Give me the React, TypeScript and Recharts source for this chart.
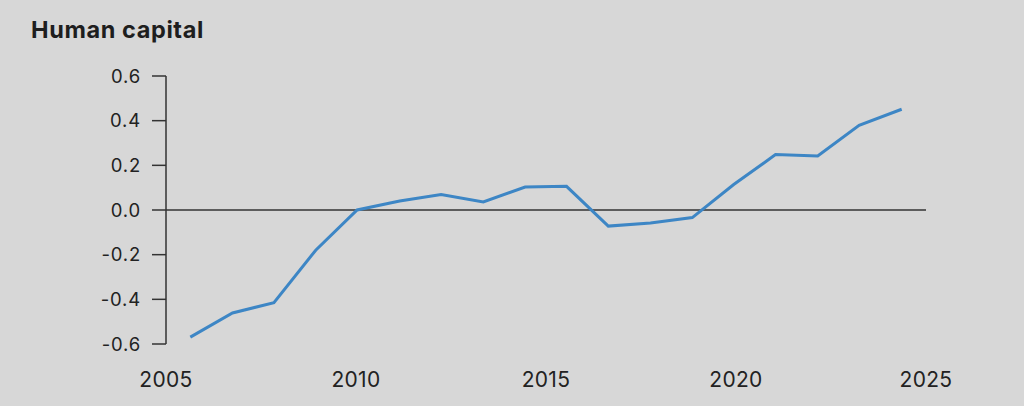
import React from 'react';
import { LineChart, Line, XAxis, YAxis, ReferenceLine } from 'recharts';

// years (points are not on whole years)
const years = [
  2005.64, 2006.75, 2007.84, 2008.94, 2010.03, 2011.15, 2012.24, 2013.35, 2014.45,
  2015.54, 2016.64, 2017.75, 2018.85, 2019.94, 2021.04, 2022.15, 2023.24, 2024.36,
];
const humanCapital = [
  -0.569, -0.461, -0.415, -0.18, 0.0, 0.04, 0.069, 0.036, 0.103,
  0.106, -0.072, -0.058, -0.034, 0.114, 0.248, 0.242, 0.379, 0.451,
];
const xTicks = [2005, 2010, 2015, 2020, 2025];
const yTicks = [-0.6, -0.4, -0.2, 0, 0.2, 0.4, 0.6];

const data = years.map((year, i) => ({ year, value: humanCapital[i] }));

const FONT = 'Inter, "Noto Sans", sans-serif';

const App: React.FC = () => {
  return (
    <div style={{ position: 'relative', width: 1024, height: 406, background: '#d7d7d7', fontFamily: FONT }}>
      <style>{'body { margin: 0; }'}</style>
      <div
        style={{
          position: 'absolute',
          left: 31,
          top: 15,
          fontSize: 23.5,
          fontWeight: 700,
          color: '#1e1e1e',
          letterSpacing: 0.6,
        }}
      >
        Human capital
      </div>
      <LineChart
        width={1024}
        height={406}
        data={data}
        margin={{ top: 76, right: 98, left: 0, bottom: 22 }}
      >
        <XAxis
          dataKey="year"
          type="number"
          domain={[2005, 2025]}
          ticks={xTicks}
          axisLine={false}
          tickLine={false}
          tickMargin={22}
          height={40}
          tick={{ fill: '#222', fontSize: 21, fontFamily: FONT, letterSpacing: 0.3 }}
        />
        <YAxis
          type="number"
          domain={[-0.6, 0.6]}
          ticks={yTicks}
          width={166}
          tickSize={14}
          tickMargin={11}
          axisLine={{ stroke: '#333', strokeWidth: 1.5 }}
          tickLine={{ stroke: '#333', strokeWidth: 1.5 }}
          tickFormatter={(v: number) => v.toFixed(1)}
          tick={{ fill: '#222', fontSize: 18.5, fontFamily: FONT, letterSpacing: 0.8 }}
        />
        <ReferenceLine y={0} stroke="#333" strokeWidth={1.5} />
        <Line
          type="linear"
          dataKey="value"
          stroke="#3d86c5"
          strokeWidth={3}
          dot={false}
          isAnimationActive={false}
        />
      </LineChart>
    </div>
  );
};

export default App;
